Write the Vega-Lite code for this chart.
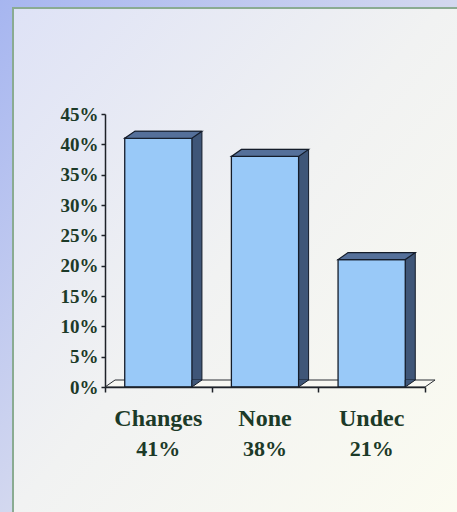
{
  "$schema": "https://vega.github.io/schema/vega-lite/v6.json",
  "width": 320,
  "height": 273,
  "autosize": {"type": "none"},
  "padding": {"left": 105, "top": 114, "right": 32, "bottom": 125},
  "background": "#e4e7f2",
  "config": {"view": {"stroke": null}},
  "data": {
    "values": [
      {"category": "Changes", "share": 0.41},
      {"category": "None", "share": 0.38},
      {"category": "Undec", "share": 0.21}
    ]
  },
  "resolve": {"scale": {"x": "independent", "y": "independent"}},
  "layer": [
    {
      "data": {"values": [{}]},
      "layer": [
        {
          "mark": {
            "type": "rect",
            "fill": {
              "gradient": "linear", "x1": 0, "y1": 0, "x2": 1, "y2": 1,
              "stops": [
                {"offset": 0, "color": "#a4b4f0"},
                {"offset": 0.5, "color": "#d3d8ef"},
                {"offset": 1, "color": "#eef0e6"}
              ]
            }
          },
          "encoding": {
            "x": {"datum": -1.1, "type": "quantitative", "scale": {"domain": [0, 3], "nice": false, "zero": false}, "axis": null},
            "x2": {"datum": 3.4},
            "y": {"datum": 0.66, "type": "quantitative", "scale": {"domain": [0, 0.45], "nice": false, "zero": false}, "axis": null},
            "y2": {"datum": -0.25}
          }
        },
        {
          "mark": {
            "type": "rect",
            "stroke": "#8aab92",
            "strokeWidth": 2,
            "fill": {
              "gradient": "linear", "x1": 0, "y1": 0, "x2": 1, "y2": 1,
              "stops": [
                {"offset": 0, "color": "#dee2f6"},
                {"offset": 0.45, "color": "#f1f2f2"},
                {"offset": 1, "color": "#fdfdf0"}
              ]
            }
          },
          "encoding": {
            "x": {"datum": -0.8625, "type": "quantitative"},
            "x2": {"datum": 3.6},
            "y": {"datum": 0.6247, "type": "quantitative"},
            "y2": {"datum": -0.3}
          }
        }
      ]
    },
    {
      "encoding": {
        "x": {
          "field": "category", "type": "nominal", "sort": null,
          "scale": {"paddingInner": 0, "paddingOuter": 0},
          "axis": {
            "orient": "bottom", "zindex": 2,
            "title": null, "labels": false, "tickBand": "extent",
            "domainColor": "#1e2228", "domainWidth": 1.5,
            "tickColor": "#1e2228", "tickWidth": 1.5, "tickSize": 5
          }
        },
        "y": {
          "field": "share", "type": "quantitative",
          "scale": {"domain": [0, 0.45], "nice": false},
          "axis": {
            "orient": "left", "zindex": 2,
            "title": null, "grid": false, "format": ".0%",
            "values": [0, 0.05, 0.1, 0.15, 0.2, 0.25, 0.3, 0.35, 0.4, 0.45],
            "labelFont": "Liberation Serif", "labelFontWeight": "bold",
            "labelFontSize": 19, "labelColor": "#1c3a28", "labelPadding": 3,
            "domainColor": "#1e2228", "domainWidth": 1.5,
            "tickColor": "#1e2228", "tickWidth": 1.5, "tickSize": 4
          }
        }
      },
      "layer": [
        {
          "transform": [{"filter": "datum.category == 'Changes'"}],
          "mark": {
            "type": "point", "filled": true, "opacity": 1, "size": 4,
            "shape": "M-53.3,0 L266.7,0 L276.7,-7 L-43.3,-7 Z",
            "fill": "#f8f8f3", "stroke": "#2a2e34", "strokeWidth": 1
          },
          "encoding": {
            "y": {"datum": 0}
          }
        },
        {
          "mark": {
            "type": "bar", "width": {"band": 0.63},
            "fill": "#3f5678", "stroke": "#141c2a", "strokeWidth": 1,
            "xOffset": 10, "yOffset": -7, "y2Offset": -7
          },
          "encoding": {
            "y2": {"datum": 0}
          }
        },
        {
          "mark": {
            "type": "bar", "width": {"band": 0.63},
            "fill": "#99c9f8", "stroke": "#141c2a", "strokeWidth": 1.3
          }
        },
        {
          "mark": {
            "type": "point", "filled": true, "opacity": 1, "size": 4,
            "shape": "M-33.6,0 L33.6,0 L43.6,-7 L-23.6,-7 Z",
            "fill": "#55709a", "stroke": "#141c2a", "strokeWidth": 1.2
          }
        },
        {
          "mark": {
            "type": "point", "filled": true, "opacity": 1, "size": 4,
            "shape": "M43.6,-7 L33.6,0 L33.6,-7",
            "fill": "#3f5678", "stroke": "#141c2a", "strokeWidth": 1
          },
          "encoding": {
            "y": {"datum": 0}
          }
        },
        {
          "mark": {
            "type": "text", "font": "Liberation Serif", "fontWeight": "bold",
            "fontSize": 24, "color": "#1c3a28", "baseline": "alphabetic", "dy": 39
          },
          "encoding": {
            "y": {"datum": 0},
            "text": {"field": "category"}
          }
        },
        {
          "mark": {
            "type": "text", "font": "Liberation Serif", "fontWeight": "bold",
            "fontSize": 22, "color": "#1c3a28", "baseline": "alphabetic", "dy": 69
          },
          "encoding": {
            "y": {"datum": 0},
            "text": {"field": "share", "format": ".0%"}
          }
        }
      ]
    }
  ]
}
